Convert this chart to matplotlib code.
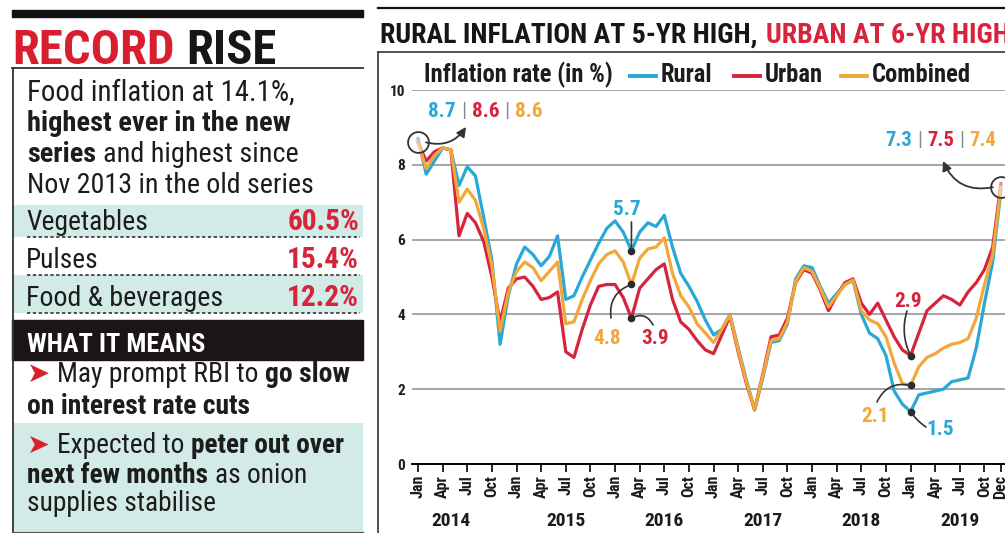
#! /usr/bin/env python3
import matplotlib
matplotlib.use("Agg")
from matplotlib import pyplot as plt
from matplotlib import font_manager
from matplotlib.patches import Rectangle

W, H = 1005, 533


def available(name):
    try:
        font_manager.findfont(font_manager.FontProperties(family=name),
                              fallback_to_default=False)
        return True
    except ValueError:
        return False


CANDIDATES = ["Roboto Condensed", "Liberation Sans Narrow", "Open Sans Condensed", "Roboto"]
FONTS = [f for f in CANDIDATES if available(f)][:1] + ["DejaVu Sans"]

BLUE = "#29a8d8"
RED = "#d6243c"
ORANGE = "#f1a73a"
DARK = "#1c1c1c"
TEAL = "#d3ebe6"

# CPI inflation (%), monthly Jan 2014 - Dec 2019
rural = [
    8.7, 7.75, 8.1, 8.45, 8.4, 7.45, 7.95, 7.7, 6.6, 5.45, 3.2, 4.5,
    5.35, 5.8, 5.6, 5.3, 5.55, 6.1, 4.4, 4.5, 5.0, 5.45, 5.9, 6.3,
    6.5, 6.2, 5.7, 6.2, 6.45, 6.35, 6.65, 5.8, 5.1, 4.75, 4.35, 3.85,
    3.45, 3.6, 4.0, 3.1, 2.25, 1.45, 2.3, 3.25, 3.3, 3.75, 4.95, 5.3,
    5.25, 4.75, 4.3, 4.55, 4.8, 4.9, 4.0, 3.5, 3.35, 2.9, 1.95, 1.6,
    1.4, 1.85, 1.9, 1.95, 2.0, 2.2, 2.25, 2.3, 3.1, 4.3, 5.4, 7.3,
]
urban = [
    8.6, 8.1, 8.35, 8.45, 8.4, 6.1, 6.7, 6.45, 5.95, 5.0, 3.8, 4.7,
    4.95, 5.0, 4.75, 4.4, 4.45, 4.6, 3.0, 2.85, 3.6, 4.25, 4.75, 4.8,
    4.8, 4.45, 3.9, 4.7, 4.95, 5.2, 5.35, 4.4, 3.8, 3.6, 3.3, 3.05,
    2.95, 3.45, 3.95, 3.0, 2.15, 1.45, 2.4, 3.4, 3.45, 3.9, 4.85, 5.2,
    5.1, 4.65, 4.1, 4.5, 4.85, 4.95, 4.3, 4.0, 4.3, 3.85, 3.4, 3.05,
    2.9, 3.5, 4.1, 4.3, 4.5, 4.4, 4.25, 4.6, 4.85, 5.2, 5.8, 7.5,
]
combined = [
    8.6, 7.9, 8.25, 8.45, 8.4, 7.0, 7.35, 7.05, 6.3, 5.3, 3.55, 4.6,
    5.15, 5.4, 5.25, 4.9, 5.15, 5.4, 3.75, 3.8, 4.4, 4.9, 5.35, 5.6,
    5.7, 5.4, 4.8, 5.5, 5.75, 5.8, 6.05, 5.1, 4.5, 4.2, 3.75, 3.5,
    3.25, 3.6, 3.98, 3.05, 2.2, 1.46, 2.36, 3.3, 3.35, 3.8, 4.88, 5.25,
    5.15, 4.7, 4.2, 4.5, 4.8, 4.92, 4.1, 3.85, 3.75, 3.4, 2.7, 2.15,
    2.1, 2.6, 2.85, 2.95, 3.1, 3.2, 3.25, 3.35, 3.9, 4.8, 5.6, 7.4,
]
years = ["2014", "2015", "2016", "2017", "2018", "2019"]
tick_months = list(range(0, 72, 3)) + [71]
tick_labels = ["Jan", "Apr", "Jul", "Oct"] * 6 + ["Dec"]

items = ["Vegetables", "Pulses", "Food & beverages"]
item_values = ["60.5%", "15.4%", "12.2%"]

fig = plt.figure(figsize=(W / 100, H / 100), dpi=100)

# ---- line chart ----
ax = fig.add_axes([412 / W, 69 / H, (W - 412) / W, 374 / H])
months = list(range(len(rural)))
ax.plot(months, rural, color=BLUE, lw=2.3)
ax.plot(months, urban, color=RED, lw=2.3)
ax.plot(months, combined, color=ORANGE, lw=2.3)
ax.set_xlim(-0.73, 71.5)
ax.set_ylim(0, 10)
for s in ["top", "right", "left"]:
    ax.spines[s].set_visible(False)
ax.spines["bottom"].set_linewidth(1.4)
ax.set_yticks(range(0, 11, 2))
ax.tick_params(axis="y", length=0, pad=5)
for lbl in ax.get_yticklabels():
    lbl.set(fontsize=11, fontweight="bold", family=FONTS, color=DARK)
ax.yaxis.grid(True, color="#8d8d8d", lw=1.1)
ax.set_axisbelow(True)
ax.set_xticks(tick_months)
ax.set_xticklabels(tick_labels, rotation=90, fontweight="bold",
                   family=FONTS, color=DARK)
for lbl in ax.get_xticklabels():
    lbl.set_fontsize(11.5)
ax.tick_params(axis="x", length=6, width=1.2, pad=2)
for k, year in enumerate(years):
    xpos = 4 if k == 0 else 12 * k + 6
    ax.text(xpos, -1.65, year, ha="center", va="baseline", fontsize=14,
            fontweight="bold", family=FONTS, color=DARK, clip_on=False)

# ---- overlay in pixel coordinates ----
ov = fig.add_axes([0, 0, 1, 1])
ov.set_xlim(0, W)
ov.set_ylim(H, 0)
ov.axis("off")
renderer = fig.canvas.get_renderer()


def at(i, v):
    return ov.transData.inverted().transform(ax.transData.transform((i, v)))


def rich(x, y, parts, size, width=None, gap=0.25):
    """Draw text parts one after another; optionally fit total width."""
    texts = [ov.text(x, y, t, fontsize=size, fontweight=w, color=c,
                     family=FONTS, va="baseline", ha="left")
             for t, w, c in parts]

    def measure():
        ws = [t.get_window_extent(renderer).width for t in texts]
        return ws, gap * texts[0].get_fontsize() * 100 / 72

    ws, g = measure()
    if width:
        f = width / (sum(ws) + g * (len(ws) - 1))
        for t in texts:
            t.set_fontsize(t.get_fontsize() * f)
        ws, g = measure()
    for t, w in zip(texts, ws):
        t.set_x(x)
        x += w + g
    return x, texts[0].get_fontsize()


# left panel
ov.add_patch(Rectangle((12, 10), 351, 7, color="#111111"))
rich(12, 64, [("RECORD", "bold", "#d71f30"), ("RISE", "bold", "#161616")], 34, width=266)
ov.plot([12, 363], [68, 68], color="#333333", lw=1.3)
ov.plot([13, 13], [68, 532], color="#333333", lw=1.3)
ov.plot([13, 363], [531.5, 531.5], color="#555555", lw=1)

rich(27, 101, [("Food inflation at 14.1%,", "normal", DARK)], 19, width=268)
rich(27, 131, [("highest ever in the new", "bold", DARK)], 19, width=263)
rich(27, 162, [("series", "bold", DARK), ("and highest since", "normal", DARK)], 19, width=271)
rich(27, 193, [("Nov 2013 in the old series", "normal", DARK)], 19, width=286)

row_tops = [205, 237, 275]
row_bottoms = [237, 275, 313]
item_widths = [122, 72, 197]
for k, (name, val) in enumerate(zip(items, item_values)):
    top, bot = row_tops[k], row_bottoms[k]
    if k != 1:
        ov.add_patch(Rectangle((14, top), 349, bot - top, color=TEAL, lw=0))
    rich(26, bot - 7, [(name, "normal", DARK)], 19, width=item_widths[k])
    rich(0, bot - 7, [(val, "bold", RED)], 20, width=72)
    ov.texts[-1].set(x=359, ha="right")
    ov.plot([27, 360], [bot, bot], color="#333333", lw=1.2, ls=(0, (2, 1.5)))

ov.add_patch(Rectangle((12, 320), 351, 40, color="#1b1515"))
rich(27, 352, [("WHAT IT MEANS", "bold", "white")], 19, width=178)

ov.add_patch(Rectangle((14, 423), 349, 108, color=TEAL, lw=0))
_, s1 = rich(27, 382, [("➤", "normal", "#d8232f"), ("May prompt RBI to", "normal", DARK),
                       ("go slow", "bold", DARK)], 19, width=323)
rich(27, 414, [("on interest rate cuts", "bold", DARK)], s1)
_, s2 = rich(27, 453, [("➤", "normal", "#d8232f"), ("Expected to", "normal", DARK),
                       ("peter out over", "bold", DARK)], 19, width=318)
rich(27, 483, [("next few months", "bold", DARK), ("as onion", "normal", DARK)], s2)
rich(27, 511, [("supplies stabilise", "normal", DARK)], s2)

# right panel frame, title and legend
ov.plot([378, W], [8, 8], color="#111111", lw=1.6)
x, s = rich(380, 43, [("RURAL INFLATION AT 5-YR HIGH,", "bold", "#161616")], 20, width=377)
rich(x + 2, 43, [("URBAN AT 6-YR HIGH", "bold", RED)], s)
ov.plot([378, W], [52, 52], color="#333333", lw=1.2)
ov.plot([378, 378], [52, H], color="#333333", lw=1.2)

_, s = rich(424, 82, [("Inflation rate (in %)", "bold", DARK)], 15, width=189)
legend_lines = [630, 734, 841]
for x0, name, col in zip(legend_lines, ["Rural", "Urban", "Combined"],
                         [BLUE, RED, ORANGE]):
    ov.plot([x0, x0 + 26], [76, 76], color=col, lw=2.8)
    rich(x0 + 31, 82, [(name, "bold", DARK)], s)

# annotations
_, num = rich(428, 117, [("8.7", "bold", BLUE), ("|", "normal", "#8a8a8a"),
                         ("8.6", "bold", RED), ("|", "normal", "#8a8a8a"),
                         ("8.6", "bold", ORANGE)], 15, width=115)
rich(885, 146, [("7.3", "bold", BLUE), ("|", "normal", "#8a8a8a"),
                ("7.5", "bold", RED), ("|", "normal", "#8a8a8a"),
                ("7.4", "bold", ORANGE)], 15, width=112)

last = len(rural) - 1
for i, v in [(0, combined[0]), (last, combined[last])]:
    ax.plot(i, v, "o", ms=15, mfc=(1, 1, 1, 0.45), mec="#333333", mew=1.3,
            clip_on=False, zorder=6)

p0 = at(0, combined[0])
ov.annotate("", xy=(466, 127), xytext=(p0[0] + 8, p0[1]),
            arrowprops=dict(arrowstyle="-|>", color="#333333", lw=1.3,
                            mutation_scale=14, shrinkA=0, shrinkB=0,
                            connectionstyle="arc3,rad=0.35"))
p1 = at(last, combined[last])
ov.annotate("", xy=(943, 161), xytext=(p1[0] - 8, p1[1]),
            arrowprops=dict(arrowstyle="-|>", color="#333333", lw=1.3,
                            mutation_scale=14, shrinkA=0, shrinkB=0,
                            connectionstyle="arc3,rad=-0.4"))

low = 60
for i in (26, low):
    ax.plot([i] * 3, [rural[i], combined[i], urban[i]], "o", ms=4.5,
            color="#2a2a2a", zorder=6)


def label(x, y, text, color):
    ov.text(x, y, text, fontsize=num, fontweight="bold", family=FONTS,
            color=color, ha="center", va="baseline")


def link(start, end, rad):
    ov.annotate("", xy=end, xytext=start,
                arrowprops=dict(arrowstyle="-", color="#333333", lw=1.2,
                                shrinkA=0, shrinkB=0,
                                connectionstyle=f"arc3,rad={rad}"))


label(627, 215, "5.7", BLUE)
link((at(26, rural[26])[0], 222), at(26, rural[26]), 0)
label(607, 344, "4.8", ORANGE)
link((611, 318), at(26, combined[26]), -0.4)
label(655, 344, "3.9", RED)
link(at(26, urban[26]), (653, 325), -0.5)

label(908, 307, "2.9", RED)
link((907, 311), at(low, urban[low]), 0.2)
label(875, 422, "2.1", ORANGE)
link((877, 402), at(low, combined[low]), -0.4)
label(940, 435, "1.5", BLUE)
link(at(low, rural[low]), (926, 427), 0.1)

fig.savefig("out.png", dpi=100)
